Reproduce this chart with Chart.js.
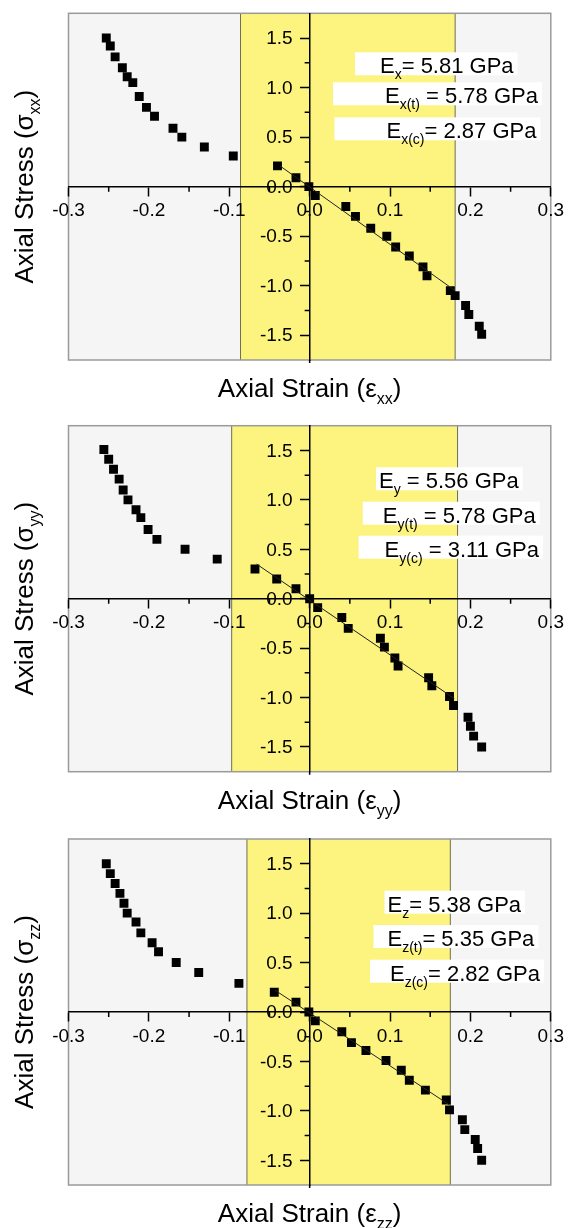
<!DOCTYPE html>
<html>
<head>
<meta charset="utf-8">
<script src="https://cdn.jsdelivr.net/npm/chart.js@4.4.1/dist/chart.umd.min.js"></script>
<style>
  html, body { margin: 0; padding: 0; background: #fff; }
  #wrap { position: relative; width: 568px; height: 1228px; overflow: hidden; }
  canvas { position: absolute; left: 0; }
</style>
</head>
<body>
<div id="wrap">
  <canvas id="cxx" style="top:0px"></canvas>
  <canvas id="cyy" style="top:413px"></canvas>
  <canvas id="czz" style="top:826px"></canvas>
</div>
<script>
// values
const xxStrain = [-0.253,-0.248,-0.242,-0.233,-0.227,-0.220,-0.212,-0.203,-0.193,-0.170,-0.159,-0.131,-0.095,-0.040,-0.017,-0.001,0.007,0.045,0.057,0.076,0.096,0.107,0.124,0.141,0.146,0.175,0.181,0.194,0.198,0.211,0.214];
const xxStress = [1.50,1.42,1.31,1.20,1.11,1.05,0.91,0.80,0.71,0.59,0.50,0.40,0.31,0.21,0.09,0.00,-0.09,-0.20,-0.30,-0.42,-0.50,-0.61,-0.70,-0.81,-0.90,-1.05,-1.10,-1.20,-1.29,-1.41,-1.49];
const xxFitStrain = [-0.037, 0.181];
const xxFitStress = [0.21, -1.05];
const xxBand = [-0.086, 0.181];
const xxModuli = [['E', 'x', '= 5.81 GPa'], ['E', 'x(t)', ' = 5.78 GPa'], ['E', 'x(c)', '= 2.87 GPa']];

const yyStrain = [-0.256,-0.250,-0.244,-0.237,-0.232,-0.226,-0.216,-0.210,-0.201,-0.190,-0.155,-0.115,-0.068,-0.041,-0.017,0.000,0.010,0.040,0.048,0.088,0.093,0.106,0.110,0.148,0.152,0.174,0.179,0.197,0.200,0.204,0.214];
const yyStress = [1.51,1.41,1.31,1.21,1.10,1.00,0.90,0.82,0.70,0.60,0.50,0.40,0.30,0.20,0.10,0.00,-0.09,-0.19,-0.30,-0.40,-0.49,-0.60,-0.68,-0.80,-0.88,-0.99,-1.08,-1.20,-1.29,-1.39,-1.50];
const yyFitStrain = [-0.066, 0.180];
const yyFitStress = [0.35, -1.01];
const yyBand = [-0.097, 0.184];
const yyModuli = [['E', 'y', ' = 5.56 GPa'], ['E', 'y(t)', ' = 5.78 GPa'], ['E', 'y(c)', ' = 3.11 GPa']];

const zzStrain = [-0.253,-0.248,-0.242,-0.236,-0.231,-0.227,-0.216,-0.210,-0.196,-0.188,-0.166,-0.138,-0.088,-0.044,-0.017,-0.001,0.007,0.040,0.052,0.070,0.095,0.114,0.124,0.144,0.170,0.174,0.190,0.193,0.206,0.209,0.214];
const zzStress = [1.50,1.40,1.30,1.20,1.10,1.00,0.91,0.80,0.70,0.61,0.50,0.40,0.29,0.20,0.10,0.00,-0.09,-0.20,-0.31,-0.39,-0.49,-0.59,-0.69,-0.79,-0.89,-0.99,-1.09,-1.19,-1.29,-1.38,-1.50];
const zzFitStrain = [-0.043, 0.174];
const zzFitStress = [0.22, -0.94];
const zzBand = [-0.078, 0.175];
const zzModuli = [['E', 'z', '= 5.38 GPa'], ['E', 'z(t)', '= 5.35 GPa'], ['E', 'z(c)', '= 2.82 GPa']];

const strainRange = [-0.3, 0.3];
const stressRange = [-1.75, 1.75];
const strainTicks = [-0.3, -0.2, -0.1, 0.0, 0.1, 0.2, 0.3];
const stressTicks = [-1.5, -1.0, -0.5, 0.0, 0.5, 1.0, 1.5];

const FONT = '"Liberation Sans", Arial, Helvetica, sans-serif';

// draws main text + subscript + rest, returns end x
function subText(ctx, x, y, main, sub, rest, size, subSize) {
  ctx.font = size + 'px ' + FONT;
  ctx.fillText(main, x, y);
  x += ctx.measureText(main).width;
  ctx.font = subSize + 'px ' + FONT;
  ctx.fillText(sub, x, y + size * 0.28);
  x += ctx.measureText(sub).width;
  ctx.font = size + 'px ' + FONT;
  ctx.fillText(rest, x, y);
  return x + ctx.measureText(rest).width;
}
function subWidth(ctx, main, sub, rest, size, subSize) {
  ctx.font = size + 'px ' + FONT;
  let w = ctx.measureText(main).width + ctx.measureText(rest).width;
  ctx.font = subSize + 'px ' + FONT;
  return w + ctx.measureText(sub).width;
}

function fmt(v) {
  return (Math.abs(v) < 1e-9 ? 0 : v).toFixed(1);
}

const decor = {
  id: 'decor',
  beforeDraw(chart, args, o) {
    const {ctx, chartArea: a, scales: {x}} = chart;
    ctx.save();
    ctx.fillStyle = '#fff';
    ctx.fillRect(0, 0, chart.width, chart.height);
    ctx.fillStyle = '#f5f5f5';
    ctx.fillRect(a.left, a.top, a.width, a.height);
    const b0 = x.getPixelForValue(o.band[0]), b1 = x.getPixelForValue(o.band[1]);
    ctx.fillStyle = '#fcf47e';
    ctx.fillRect(b0, a.top, b1 - b0, a.height);
    ctx.strokeStyle = '#6f6f50';
    ctx.lineWidth = 1;
    ctx.beginPath();
    ctx.moveTo(b0, a.top); ctx.lineTo(b0, a.bottom);
    ctx.moveTo(b1, a.top); ctx.lineTo(b1, a.bottom);
    ctx.stroke();
    ctx.strokeStyle = '#9a9a9a';
    ctx.lineWidth = 1.5;
    ctx.strokeRect(a.left, a.top, a.width, a.height);
    ctx.restore();
  },
  beforeDatasetsDraw(chart) {
    const {ctx, chartArea: a, scales: {x, y}} = chart;
    const y0 = y.getPixelForValue(0), x0 = x.getPixelForValue(0);
    ctx.save();
    ctx.strokeStyle = '#000';
    ctx.lineWidth = 1.5;
    ctx.beginPath();
    // minor ticks halfway between the library's major ticks
    const xt = x.ticks.map(t => t.value);
    for (let i = 0; i < xt.length - 1; i++) {
      const px = x.getPixelForValue((xt[i] + xt[i + 1]) / 2);
      ctx.moveTo(px, y0); ctx.lineTo(px, y0 + 5);
    }
    const yt = y.ticks.map(t => t.value);
    for (let i = 0; i < yt.length - 1; i++) {
      const py = y.getPixelForValue((yt[i] + yt[i + 1]) / 2);
      ctx.moveTo(x0, py); ctx.lineTo(x0 - 5, py);
    }
    // vertical axis runs a little past the frame bottom
    ctx.moveTo(x0, a.bottom); ctx.lineTo(x0, a.bottom + 3);
    ctx.stroke();
    // stress tick labels, left of the tick marks
    ctx.fillStyle = '#000';
    ctx.font = '19px ' + FONT;
    ctx.textAlign = 'right';
    ctx.textBaseline = 'middle';
    y.ticks.forEach(t => {
      ctx.fillText(fmt(t.value), x0 - 17, y.getPixelForValue(t.value) + 1);
    });
    ctx.restore();
  },
  afterDraw(chart, args, o) {
    const {ctx, chartArea: a} = chart;
    ctx.save();
    ctx.textBaseline = 'alphabetic';
    // modulus labels
    o.moduli.forEach((m, i) => {
      const p = o.boxes[i];
      const w = subWidth(ctx, m[0], m[1], m[2], 22, 14);
      const bx = a.left + p.x - p.padL, by = a.top + p.base - 21;
      ctx.fillStyle = '#fff';
      ctx.fillRect(bx, by, p.padL + w + 4, 23);
      ctx.fillStyle = '#000';
      subText(ctx, a.left + p.x, a.top + p.base, m[0], m[1], m[2], 22, 14);
    });
    // x title
    const t = o.xTitle;
    const tw = subWidth(ctx, t[0], t[1], t[2], 26, 16);
    ctx.fillStyle = '#000';
    subText(ctx, (a.left + a.right) / 2 - tw / 2, a.bottom + 37, t[0], t[1], t[2], 26, 16);
    // y title
    const s = o.yTitle;
    const sw = subWidth(ctx, s[0], s[1], s[2], 26, 16);
    ctx.translate(33, (a.top + a.bottom) / 2);
    ctx.rotate(-Math.PI / 2);
    subText(ctx, -sw / 2, 0, s[0], s[1], s[2], 26, 16);
    ctx.restore();
  }
};

function makePanel(id, h, pad, strain, stress, fitStrain, fitStress, band, moduli, boxes, sub) {
  const cv = document.getElementById(id);
  cv.width = 568; cv.height = h;
  cv.style.width = '568px'; cv.style.height = h + 'px';
  new Chart(cv.getContext('2d'), {
    type: 'scatter',
    data: {
      datasets: [
        {
          type: 'line',
          data: fitStrain.map((v, i) => ({x: v, y: fitStress[i]})),
          borderColor: '#222',
          borderWidth: 1,
          pointRadius: 0,
          fill: false
        },
        {
          data: strain.map((v, i) => ({x: v, y: stress[i]})),
          pointStyle: 'rect',
          pointRadius: 6.3,
          backgroundColor: '#000',
          borderColor: '#000',
          borderWidth: 0
        }
      ]
    },
    options: {
      responsive: false,
      animation: false,
      devicePixelRatio: 1,
      layout: { padding: pad },
      plugins: {
        legend: { display: false },
        tooltip: { enabled: false },
        decor: {
          band: band,
          moduli: moduli,
          boxes: boxes,
          xTitle: ['Axial Strain (\u03b5', sub, ')'],
          yTitle: ['Axial Stress (\u03c3', sub, ')']
        }
      },
      scales: {
        x: {
          type: 'linear',
          min: strainRange[0], max: strainRange[1],
          position: { y: 0 },
          afterBuildTicks: s => { s.ticks = strainTicks.map(v => ({value: v})); },
          ticks: { callback: fmt, color: '#000', font: { family: FONT, size: 19 }, padding: 4, maxRotation: 0, autoSkip: false },
          grid: { drawOnChartArea: false, drawTicks: true, tickLength: 9, tickColor: '#000', tickWidth: 1.5 },
          border: { display: true, color: '#000', width: 1.5 }
        },
        y: {
          type: 'linear',
          min: stressRange[0], max: stressRange[1],
          position: { x: 0 },
          afterBuildTicks: s => { s.ticks = stressTicks.map(v => ({value: v})); },
          ticks: { display: false, callback: fmt, autoSkip: false },
          grid: { drawOnChartArea: false, drawTicks: true, tickLength: 9, tickColor: '#000', tickWidth: 1.5 },
          border: { display: true, color: '#000', width: 1.5 }
        }
      }
    },
    plugins: [decor]
  });
}

makePanel('cxx', 413, {left: 68.5, right: 15, top: 13.3, bottom: 53}, xxStrain, xxStress, xxFitStrain, xxFitStress, xxBand, xxModuli,
  [{x: 311.5, base: 60, padL: 25}, {x: 316.5, base: 90, padL: 52}, {x: 318, base: 125, padL: 52}], 'xx');
makePanel('cyy', 413, {left: 68.5, right: 15, top: 12.7, bottom: 54.3}, yyStrain, yyStress, yyFitStrain, yyFitStress, yyBand, yyModuli,
  [{x: 310.5, base: 62.6, padL: 3}, {x: 314.3, base: 97, padL: 20}, {x: 316.1, base: 131, padL: 26}], 'yy');
makePanel('czz', 402, {left: 68.5, right: 15, top: 13, bottom: 43}, zzStrain, zzStress, zzFitStrain, zzFitStress, zzBand, zzModuli,
  [{x: 319, base: 72.7, padL: 3}, {x: 319, base: 107, padL: 14}, {x: 321.5, base: 141.7, padL: 20}], 'zz');
</script>
</body>
</html>
